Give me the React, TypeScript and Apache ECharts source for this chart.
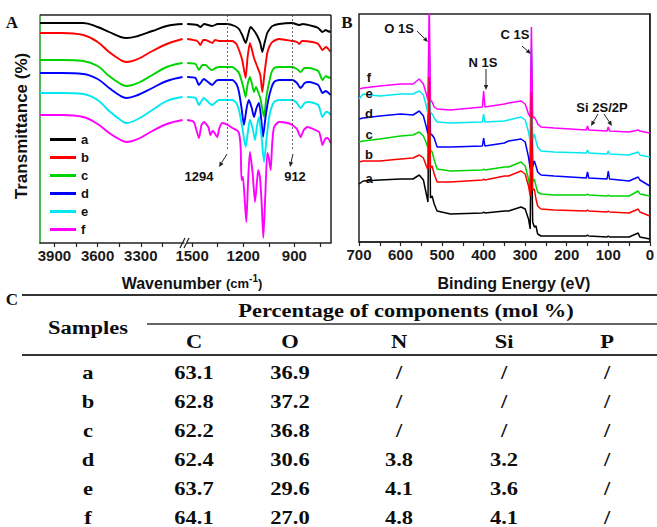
import React, { useEffect, useRef } from 'react';
import * as echarts from 'echarts';

// ---------- shared ----------
const sampleNames = ['a', 'b', 'c', 'd', 'e', 'f'];
const sampleColors = ['#000000', '#ff0000', '#00d400', '#0000ff', '#00e8f0', '#ff00ff'];

// ---------- Panel A: FTIR (arbitrary transmittance units, stacked) ----------
const ftirLeftWavenumbers = [4000, 3850, 3700, 3600, 3520, 3440, 3400, 3320, 3220, 3120, 3010];
const ftirLeftA = [220, 220, 220, 216, 211, 206, 205, 207, 212, 217, 219];
const ftirLeftB = [210, 210, 208, 201, 191, 183, 181, 184, 192, 199, 204];
const ftirLeftC = [183, 183, 182, 177, 167, 159, 157, 160, 168, 176, 180];
const ftirLeftD = [170, 170, 169, 164, 155, 147, 145, 148, 155, 162, 166];
const ftirLeftE = [150, 150, 149, 143, 132, 123, 120, 124, 133, 142, 146];
const ftirLeftF = [128, 128, 126, 119, 110, 103, 101, 104, 112, 119, 123];

const ftirRightA = [[1529, 219], [1470, 218], [1451, 216], [1430, 219], [1382, 217], [1350, 219], [1294, 219], [1250, 217], [1225, 214], [1206, 208], [1186, 200], [1172, 208], [1157, 216], [1135, 212], [1117, 207], [1100, 200], [1088, 191], [1075, 200], [1059, 210], [1040, 215], [1029, 217], [990, 219], [912, 220], [872, 218], [850, 219], [794, 217], [760, 215], [735, 211], [715, 213], [706, 212], [686, 211]];
const ftirRightB = [[1529, 204], [1470, 202], [1451, 198], [1435, 203], [1421, 203], [1395, 201], [1382, 200], [1365, 203], [1343, 202], [1264, 202], [1240, 199], [1225, 193], [1206, 183], [1186, 165], [1175, 185], [1161, 200], [1150, 194], [1137, 185], [1117, 176], [1100, 168], [1088, 151], [1075, 170], [1059, 190], [1045, 197], [1029, 201], [990, 204], [912, 202], [885, 201], [872, 199], [855, 202], [794, 201], [760, 199], [735, 193], [715, 196], [706, 195], [686, 191]];
const ftirRightC = [[1529, 180], [1480, 179], [1460, 173], [1440, 178], [1421, 178], [1395, 174], [1382, 173], [1362, 175], [1340, 176], [1264, 176], [1240, 173], [1225, 170], [1206, 160], [1196, 153], [1186, 146], [1175, 158], [1161, 166], [1150, 160], [1137, 151], [1125, 156], [1117, 153], [1100, 145], [1078, 126], [1065, 145], [1049, 160], [1035, 170], [1019, 175], [990, 176], [912, 176], [885, 174], [863, 171], [840, 175], [814, 175], [760, 172], [735, 163], [715, 167], [706, 166], [686, 165]];
const ftirRightD = [[1529, 166], [1480, 165], [1460, 158], [1431, 164], [1400, 160], [1382, 158], [1360, 162], [1343, 163], [1264, 163], [1240, 159], [1225, 151], [1210, 135], [1196, 118], [1180, 135], [1167, 143], [1150, 135], [1137, 126], [1122, 135], [1108, 140], [1095, 125], [1084, 106], [1070, 125], [1053, 143], [1035, 155], [1019, 161], [990, 163], [912, 163], [885, 160], [863, 155], [840, 160], [814, 161], [760, 158], [735, 150], [715, 152], [706, 151], [686, 148]];
const ftirRightE = [[1529, 146], [1480, 145], [1460, 138], [1431, 145], [1400, 140], [1382, 138], [1360, 141], [1343, 143], [1264, 143], [1240, 140], [1225, 133], [1205, 115], [1186, 96], [1172, 112], [1161, 123], [1145, 115], [1131, 103], [1120, 116], [1108, 126], [1092, 105], [1078, 81], [1063, 105], [1049, 125], [1035, 135], [1019, 141], [990, 143], [912, 143], [885, 140], [863, 135], [840, 140], [814, 141], [760, 138], [735, 126], [715, 131], [706, 131], [686, 128]];
const ftirRightF = [[1529, 123], [1490, 121], [1460, 105], [1445, 118], [1431, 121], [1405, 116], [1392, 108], [1380, 112], [1372, 111], [1353, 106], [1340, 115], [1323, 120], [1290, 118], [1264, 115], [1240, 113], [1225, 110], [1215, 95], [1210, 63], [1202, 66], [1192, 45], [1182, 21], [1172, 60], [1161, 91], [1145, 70], [1131, 41], [1120, 60], [1112, 73], [1102, 66], [1092, 40], [1082, 5], [1070, 50], [1059, 90], [1050, 85], [1039, 73], [1030, 100], [1019, 116], [990, 121], [940, 120], [912, 118], [885, 114], [863, 106], [845, 113], [823, 116], [790, 114], [755, 111], [745, 105], [735, 98], [720, 104], [706, 105], [686, 100]];

const ftirLeftTicks = [3900, 3750, 3600, 3450, 3300, 3150];
const ftirLeftLabels = [3900, 3600, 3300];
const ftirRightTicks = [1500, 1350, 1200, 1050, 900, 750];
const ftirRightLabels = [1500, 1200, 900];
const ftirMarkers = [1294, 912];

// ---------- Panel B: XPS survey (arbitrary intensity, stacked) ----------
const xpsEnergy = [700, 690, 650, 600, 570, 555, 545, 538, 534, 531, 528, 524, 519, 512, 480, 403, 400, 397, 350, 340, 310, 300, 292, 288, 285, 282, 278, 274, 270, 262, 230, 153, 150, 147, 103, 100, 97, 50, 28, 24, 0];
const xpsA = [58, 61, 62, 63, 63, 67, 62, 48, 40, 196, 44, 46, 38, 31, 28, 29, 30, 29, 31, 31, 35, 33, 23, 13, 120, 20, 15, 16, 8, 6, 6, 6, 7, 6, 5, 6, 5, 5, 9, 5, 3];
const xpsB = [80, 81, 81, 83, 84, 87, 84, 76, 72, 165, 74, 76, 68, 60, 60, 62, 63, 62, 66, 66, 71, 68, 56, 46, 150, 52, 53, 43, 36, 33, 32, 31, 32, 31, 30, 31, 30, 29, 33, 30, 26];
const xpsC = [100, 101, 103, 106, 107, 110, 106, 99, 94, 180, 92, 90, 82, 73, 71, 72, 73, 72, 75, 75, 80, 76, 63, 51, 175, 60, 63, 56, 50, 48, 47, 47, 48, 47, 46, 47, 46, 46, 51, 48, 46];
const xpsD = [123, 124, 126, 128, 127, 131, 126, 115, 108, 190, 108, 107, 104, 95, 95, 96, 104, 96, 99, 101, 103, 100, 85, 73, 185, 75, 81, 76, 70, 67, 66, 64, 70, 64, 63, 71, 63, 61, 65, 62, 56];
const xpsE = [143, 148, 146, 148, 148, 151, 147, 136, 128, 205, 130, 128, 124, 120, 119, 120, 128, 120, 121, 122, 125, 122, 110, 100, 195, 102, 108, 101, 95, 91, 90, 89, 92, 89, 88, 91, 88, 87, 90, 87, 85];
const xpsF = [153, 154, 156, 158, 158, 163, 158, 148, 142, 240, 142, 140, 135, 133, 132, 135, 151, 135, 138, 139, 141, 138, 128, 125, 215, 124, 125, 122, 118, 115, 114, 112, 116, 112, 111, 115, 111, 110, 112, 111, 109];

// ---------- Panel C: table ----------
const tableHeaders = ['C', 'O', 'N', 'Si', 'P'];
const tableSamples = ['a', 'b', 'c', 'd', 'e', 'f'];
const tableC = ['63.1', '62.8', '62.2', '62.4', '63.7', '64.1'];
const tableO = ['36.9', '37.2', '36.8', '30.6', '29.6', '27.0'];
const tableN = ['/', '/', '/', '3.8', '4.1', '4.8'];
const tableSi = ['/', '/', '/', '3.2', '3.6', '4.1'];
const tableP = ['/', '/', '/', '/', '/', '/'];

const SANS = "'Liberation Sans', Arial, sans-serif";
const SERIF = "'Liberation Serif', 'Times New Roman', serif";

function txt(text: string, x: number, y: number, o: any = {}) {
  return {
    type: 'text', x, y, z: 100,
    rotation: o.rotation || 0,
    scaleX: o.scaleX || 1,
    style: {
      text,
      fill: o.color || '#111',
      fontSize: o.size || 13,
      fontWeight: o.weight || 'bold',
      fontFamily: o.family || SANS,
      textAlign: o.align || 'center',
      textVerticalAlign: 'middle',
    },
  };
}

function seg(x1: number, y1: number, x2: number, y2: number, w = 1, color = '#222', dash?: number[]) {
  return { type: 'line', z: 100, shape: { x1, y1, x2, y2 }, style: { stroke: color, lineWidth: w, lineDash: dash } };
}

function arrow(x1: number, y1: number, x2: number, y2: number) {
  const dx = x2 - x1, dy = y2 - y1;
  const L = Math.hypot(dx, dy);
  const ux = dx / L, uy = dy / L;
  const hl = 5, hw = 2.2;
  const bx = x2 - ux * hl, by = y2 - uy * hl;
  return [
    seg(x1, y1, bx, by, 1, '#222'),
    {
      type: 'polygon', z: 100,
      shape: { points: [[x2, y2], [bx - uy * hw, by + ux * hw], [bx + uy * hw, by - ux * hw]] },
      style: { fill: '#222' },
    },
  ];
}

export default function App() {
  const ref = useRef<HTMLDivElement>(null);
  useEffect(() => {
    if (!ref.current) return;
    const chart = echarts.init(ref.current, null, { renderer: 'svg' });

    const leftVals = [ftirLeftA, ftirLeftB, ftirLeftC, ftirLeftD, ftirLeftE, ftirLeftF];
    const rightVals = [ftirRightA, ftirRightB, ftirRightC, ftirRightD, ftirRightE, ftirRightF];
    const xpsVals = [xpsA, xpsB, xpsC, xpsD, xpsE, xpsF];

    const series: any[] = [];
    sampleNames.forEach((name, i) => {
      const color = sampleColors[i];
      series.push({
        name, type: 'line', xAxisIndex: 0, yAxisIndex: 0, symbol: 'none', smooth: 0.4, silent: true,
        data: ftirLeftWavenumbers.map((w, j) => [w, leftVals[i][j]]),
        lineStyle: { color, width: 1.9 }, itemStyle: { color },
      });
      const right: any = {
        name, type: 'line', xAxisIndex: 1, yAxisIndex: 1, symbol: 'none', smooth: 0.2, silent: true,
        data: rightVals[i],
        lineStyle: { color, width: 1.9 }, itemStyle: { color },
      };
      if (i === 0) {
        right.markLine = {
          silent: true, symbol: ['none', 'none'], label: { show: false },
          lineStyle: { type: [2, 2], color: '#444', width: 0.8 },
          data: ftirMarkers.map((m) => [{ coord: [m, 228] }, { coord: [m, 93] }]),
        };
      }
      series.push(right);
      series.push({
        name, type: 'line', xAxisIndex: 2, yAxisIndex: 2, symbol: 'none', silent: true,
        z: i === 1 ? 3 : 2,
        data: xpsEnergy.map((e, j) => [e, xpsVals[i][j]]),
        lineStyle: { color, width: 1.5 }, itemStyle: { color },
      });
    });

    const tickLabel = { fontFamily: SANS, fontWeight: 'bold', fontSize: 15, color: '#1a1a1a', margin: 5, formatter: (v: number) => String(v) };
    const tick = { show: true, inside: false, length: 4, lineStyle: { color: '#222', width: 1.2 } };
    const axisLine = { show: true, lineStyle: { color: '#222', width: 1.5 } };

    const graphic: any[] = [];
    // Panel A frame (top & right), break marks
    graphic.push(seg(40, 15, 331, 15, 1.5));
    graphic.push(seg(331, 15, 331, 243, 1.5));
    graphic.push(seg(180, 248, 185, 238, 1.2));
    graphic.push(seg(184, 248, 189, 238, 1.2));
    // Panel labels
    graphic.push(txt('A', 12, 22, { family: SERIF, size: 17 }));
    graphic.push(txt('B', 347, 22, { family: SERIF, size: 17 }));
    graphic.push(txt('C', 12, 299, { family: SERIF, size: 17 }));
    // Axis names
    graphic.push(txt('Transmittance (%)', 21, 126, { size: 17, rotation: Math.PI / 2 }));
    graphic.push({
      type: 'text', x: 192, y: 283, z: 100,
      style: {
        text: '{a|Wavenumber }{b|(cm}{s|-1}{b|)}',
        textAlign: 'center', textVerticalAlign: 'middle', fill: '#111',
        rich: {
          a: { fontFamily: SANS, fontWeight: 'bold', fontSize: 16, fill: '#111' },
          b: { fontFamily: SANS, fontWeight: 'bold', fontSize: 13, fill: '#111' },
          s: { fontFamily: SANS, fontWeight: 'bold', fontSize: 10, fill: '#111', padding: [0, 0, 10, 0] },
        },
      },
    });
    graphic.push(txt('Binding Energy (eV)', 514, 283, { size: 16 }));
    // Panel A annotations
    graphic.push(txt('1294', 199, 176, { size: 13 }));
    graphic.push(txt('912', 295, 176, { size: 13 }));
    graphic.push(...arrow(227, 154, 219, 167));
    graphic.push(...arrow(293, 154, 290, 167));
    // Panel B annotations
    graphic.push(txt('O 1S', 399, 28, { size: 13 }));
    graphic.push(...arrow(417, 31, 428, 42));
    graphic.push(txt('N 1S', 483, 62, { size: 13 }));
    graphic.push(...arrow(486, 69, 486, 90));
    graphic.push(txt('C 1S', 515, 34, { size: 13 }));
    graphic.push(...arrow(522, 46, 531, 54));
    graphic.push(txt('Si 2S/2P', 602, 107, { size: 13 }));
    graphic.push(...arrow(598, 114, 591, 126));
    graphic.push(...arrow(604, 114, 612, 126));
    const curveLabelY = [178, 154, 134, 113, 93, 77];
    sampleNames.forEach((n, i) => graphic.push(txt(n, 369, curveLabelY[i], { size: 13 })));

    // Panel C table
    const tOpt = { family: SERIF, size: 18, scaleX: 1.25, color: '#0d0d0d' };
    graphic.push(seg(22, 295, 657, 295, 2, '#333'));
    graphic.push(seg(147, 324, 657, 324, 1.5, '#333'));
    graphic.push(seg(22, 355, 657, 355, 2, '#333'));
    graphic.push(txt('Percentage of components (mol %)', 406, 311, tOpt));
    graphic.push(txt('Samples', 88, 328, tOpt));
    const colX = [194, 290, 399, 504, 607];
    tableHeaders.forEach((h, j) => graphic.push(txt(h, colX[j], 342, tOpt)));
    const cols = [tableC, tableO, tableN, tableSi, tableP];
    tableSamples.forEach((s, i) => {
      const y = 373 + i * 29;
      graphic.push(txt(s, 88, y, tOpt));
      cols.forEach((col, j) => graphic.push(txt(col[i], colX[j], y, tOpt)));
    });

    chart.setOption({
      animation: false,
      backgroundColor: '#ffffff',
      grid: [
        { left: 40, top: 15, width: 144, height: 228 },
        { left: 187, top: 15, width: 144, height: 228 },
        { left: 359, top: 14, width: 294, height: 228, show: true, borderColor: '#222', borderWidth: 1.5, backgroundColor: 'transparent' },
      ],
      xAxis: [
        {
          gridIndex: 0, type: 'value', min: 3000, max: 4000, inverse: true, axisLine,
          axisTick: { ...tick, customValues: ftirLeftTicks },
          axisLabel: { ...tickLabel, customValues: ftirLeftLabels },
          splitLine: { show: false },
        },
        {
          gridIndex: 1, type: 'value', min: 685, max: 1530, inverse: true, axisLine,
          axisTick: { ...tick, customValues: ftirRightTicks },
          axisLabel: { ...tickLabel, customValues: ftirRightLabels },
          splitLine: { show: false },
        },
        {
          gridIndex: 2, type: 'value', min: 0, max: 700, interval: 100, inverse: true, axisLine,
          axisTick: tick,
          minorTick: { show: true, splitNumber: 2, length: 4, lineStyle: { color: '#222', width: 1.2 } },
          axisLabel: tickLabel,
          splitLine: { show: false },
        },
      ],
      yAxis: [
        {
          gridIndex: 0, type: 'value', min: 0, max: 228,
          axisLine: { show: true, lineStyle: { color: '#1e9a1e', width: 1.5 } },
          axisTick: { show: false }, axisLabel: { show: false }, splitLine: { show: false },
        },
        {
          gridIndex: 1, type: 'value', min: 0, max: 228,
          axisLine: { show: false }, axisTick: { show: false }, axisLabel: { show: false }, splitLine: { show: false },
        },
        {
          gridIndex: 2, type: 'value', min: 0, max: 228,
          axisLine: { show: true, lineStyle: { color: '#222', width: 1.5 } },
          axisTick: { show: false }, axisLabel: { show: false }, splitLine: { show: false },
        },
      ],
      legend: {
        data: sampleNames, orient: 'vertical', left: 50, top: 133, icon: 'rect',
        itemWidth: 26, itemHeight: 3, itemGap: 5, padding: 0,
        textStyle: { fontFamily: SANS, fontWeight: 'bold', fontSize: 13, color: '#111' },
        selectedMode: false,
      },
      series,
      graphic,
    });
    return () => chart.dispose();
  }, []);

  return <div ref={ref} style={{ position: 'absolute', left: 0, top: 0, width: 657, height: 527 }} />;
}
